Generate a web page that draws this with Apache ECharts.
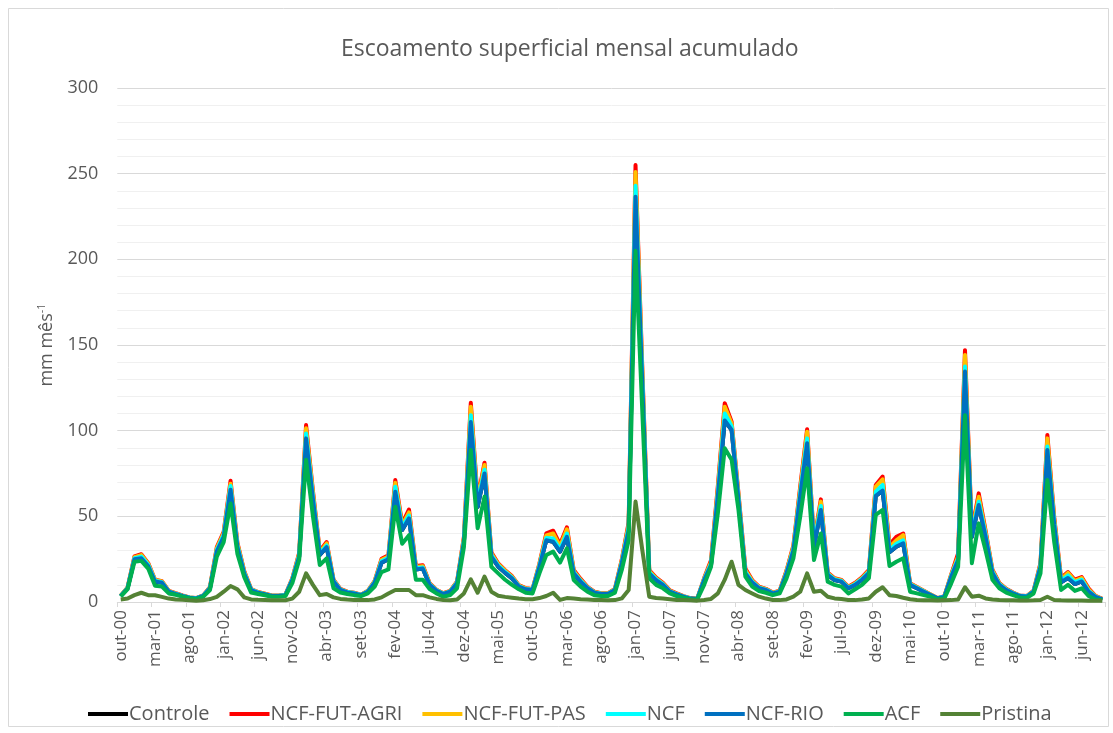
<!DOCTYPE html>
<html>
<head>
<meta charset="utf-8">
<script src="https://cdn.jsdelivr.net/npm/echarts@6/dist/echarts.min.js"></script>
<style>
html,body{margin:0;padding:0;background:#fff;}
#chart{width:1113px;height:733px;}
</style>
</head>
<body>
<div id="chart"></div>
<script>
// Category labels (months out-00 .. set-12)
const monthNames = ['jan','fev','mar','abr','mai','jun','jul','ago','set','out','nov','dez'];
const categories = [];
for (let k = 0; k < 144; k++) {
  const m = (9 + k) % 12;
  const y = Math.floor((9 + k) / 12);
  categories.push(monthNames[m] + '-' + String(y).padStart(2, '0'));
}
const seriesNames = ['Controle','NCF-FUT-AGRI','NCF-FUT-PAS','NCF','NCF-RIO','ACF','Pristina'];
const yTicks = [0, 50, 100, 150, 200, 250, 300];

const ncfFutAgri = [3.7,8.5,26.6,27.9,22.7,13,12.2,6.5,5.1,3.8,
2.7,2.3,3.8,8.7,32,41,70.8,34.6,17.9,7.6,
5.8,4.9,3.8,3.8,4.3,13.9,28.7,103.3,65,29.6,
35,13,7.6,6,5.4,4.3,6.5,12.3,25.2,27.2,
71.2,45.8,54,21,21.5,10.9,7.2,5.1,6.5,12,
38,116.3,60.2,81.3,29,22.5,18.6,15.1,9.8,8.1,
7.6,22.5,40,41.6,33.6,43.6,18.7,13.5,8.9,6,
5.1,5.1,7.7,24.8,46.5,255,135,18.6,14.3,11.2,
6.8,5,3.4,2.2,2,14,24.4,68,116,105.2,
63.4,19.6,12.8,8.9,7.7,5.5,6.6,18.4,33,67.5,
100.8,35.2,59.9,17.2,13.9,12.9,8.9,11.2,14.4,18.7,
68.3,73.2,33.5,38,40,11,8.8,6.6,4.4,2.3,
3.4,16.2,28.4,147,41.5,63.4,41.6,18.8,11.1,7.7,
5.5,3.8,3.5,6.6,22.7,97.5,49.5,14,17.5,13,
14.5,8,3.6,1.8];

const ncfFutPas = [3.7,8.4,26.2,27.4,22.3,12.8,12,6.4,5,3.7,
2.6,2.2,3.7,8.5,31.3,40.3,69,34,17.5,7.4,
5.7,4.8,3.7,3.7,4.2,13.6,28.1,101.4,63.6,29,
34.2,12.8,7.4,5.9,5.3,4.2,6.4,12,24.6,26.6,
69.6,44.8,52.3,20.4,20.9,10.6,7,5,6.4,11.7,
37.2,114,59,80,28.3,22,18.2,14.7,9.6,7.9,
7.4,22,38.8,40,32.4,42.4,18,12.9,8.6,5.8,
5,5,7.5,24.2,45.2,251,133,18,13.8,10.8,
6.5,4.8,3.3,2.1,1.9,13.6,23.4,66,114,104,
62.5,18.6,12.3,8.6,7.5,5.3,6.4,17.9,32.2,66,
99.4,34.5,58.6,16.8,13.6,12.6,8.6,10.8,14,18.2,
67.3,71.6,32,36,39,10.7,8.6,6.4,4.3,2.2,
3.3,15.8,26.6,144.2,40.5,61.4,40.6,18.3,10.8,7.5,
5.3,3.7,3.4,6.4,22.1,95.5,48.3,13.1,17,12.3,
14,7.3,3.4,1.7];

const ncf = [3.6,8.2,25.6,26.5,21.7,12.4,11.6,6.2,4.8,3.6,
2.6,2.2,3.6,8.3,30.4,39.2,67.7,33,17,7.2,
5.6,4.6,3.6,3.6,4.1,13.2,27.3,98.4,61.8,28.2,
33,12.4,7.2,5.8,5.2,4.1,6.2,11.7,23.8,25.8,
67.3,43.4,50.5,19.7,20.2,10.3,6.8,4.8,6.2,11.4,
36.1,109,57.3,77.2,27.4,21.3,17.6,14.3,9.3,7.6,
7.2,21.3,37.3,37,30.8,40,17.3,12.4,8.3,5.6,
4.8,4.8,7.2,23.4,43.5,243,129.5,17.3,13.3,10.4,
6.2,4.6,3.2,2.1,1.9,13.2,22.4,64,110,102.5,
61,17.5,11.8,8.3,7.2,5.2,6.2,17.3,31,64,
95.5,33.4,56,16.3,13.2,12.3,8.3,10.4,13.5,17.6,
64.4,68.3,30.4,34,36,10.4,8.3,6.2,4.1,2.2,
3.2,15.3,25.4,137.4,39,58.5,39.3,17.6,10.4,7.2,
5.2,3.6,3.3,6.2,21.3,90.7,46.5,12.2,15.5,11.4,
13,6.6,3.2,1.6];

const ncfRio = [3.5,8,25,25.5,21,12,11.3,6,4.7,3.5,
2.5,2.1,3.5,8,29.5,38,65.5,32,16.5,7,
5.4,4.5,3.5,3.5,4,12.8,26.5,95.5,60,27.4,
32,12,7,5.6,5,4,6,11.3,23,25,
64.4,42,48.8,19,19.5,10,6.6,4.7,6,11,
35,105,55.6,75,26.5,20.6,17,13.8,9,7.4,
7,20.6,36,35.2,29.4,38,16.7,11.9,8,5.4,
4.7,4.7,7,22.6,42,236.5,126,16.7,12.8,10,
6,4.5,3.1,2,1.8,12.8,21.6,62,106,100.4,
59.5,16.7,11.3,8,7,5,6,16.7,30,62,
92.6,32.3,53.7,15.8,12.8,11.9,8,10,13,17,
61.9,65,29,32.3,34.2,10,8,6,4,2.1,
3.1,14.8,24.5,134.5,38,56.6,38,17,10,7,
5,3.5,3.2,6,20.6,88.7,45,11.5,14,10.5,
12,6,3,1.5];

// Controle is fully hidden beneath the other curves in the picture
const controle = ncfRio;

const acf = [3.2,7.5,23.5,24,19.5,9.5,9,5,4.2,3.1,
2.2,1.8,3,7,26.5,35,57.5,28,14.5,5.5,
4.7,3.9,3.1,3,3.5,11,24.5,83,50,21.6,
25.5,8,5.5,4.7,4,3.5,5,9,17.5,19,
55.6,34,39,13,13,7.6,5,3.1,4,8,
32,88.7,43,61.5,20.6,16.7,13,10,7.4,5.4,
5,16.7,27.4,29.4,23,31.3,12.8,9,6,4,
3.5,3.5,5.4,18.7,36,205,110,13.8,10,8,
5,3.5,2.5,1.6,1.5,10,20.6,52,89.7,83,
53.7,14.8,9,6.4,5.4,4,5,13.8,25.5,50,
78,24.5,40,11.9,10,9,5,7.4,10,14,
50.8,53.7,21,23.5,25.5,6,5,4,3.1,1.6,
2.1,10.9,20.6,109,22.6,45.9,30,13,8,5.5,
4,2.7,2.5,5,16.7,71.2,35,7,10,6.5,
8,3.5,1.5,1];

const pristina = [1.5,2,4,5.4,4,3.9,3,2,1.5,1.3,
1,0.8,1,1.7,3,6,9.3,7.4,2.7,1.5,
1.3,1.2,1,1,1,2,6,16.7,10,4,
4.7,2.7,1.8,1.4,1.2,1.1,1.1,1.5,2.7,5,
7,7,7,4,4,2.7,1.8,1.2,1,1.5,
5,13.2,5.4,14.8,6,3.7,3,2.5,2,1.6,
1.6,2.3,3.5,5.4,1.2,2.3,2,1.6,1.4,1.2,
1.2,1,1.1,2.1,7,58.6,30,3.1,2.3,2,
1.6,1.2,1.1,1,0.8,1.2,1.8,5,13,23.5,
10,7,5,3.1,2,1.2,1.1,1.5,3.1,6,
16.7,6,6.6,3.1,2.1,1.8,1.2,1.1,1.5,2.1,
6,8.6,4,3.5,2.5,1.6,1.2,1,1,0.9,
1,1.1,1.5,8.6,3.1,3.7,2.1,1.5,1.2,1,
1,0.9,0.9,1,1.2,3.1,1.2,1,0.9,0.9,
0.9,0.8,0.8,0.8];

const seriesData = [controle, ncfFutAgri, ncfFutPas, ncf, ncfRio, acf, pristina];
const colors = ['#000000','#ff0000','#ffc000','#00ffff','#0070c0','#00b050','#548235'];

const FONT = '"Open Sans", "Liberation Sans", sans-serif';
const chart = echarts.init(document.getElementById('chart'), null, {renderer: 'canvas'});

const option = {
  animation: false,
  backgroundColor: '#ffffff',
  color: colors,
  title: {
    text: 'Escoamento superficial mensal acumulado',
    left: 336,
    top: 33,
    textStyle: {fontFamily: FONT, fontSize: 23, fontWeight: 'normal', color: '#595959'}
  },
  graphic: [{
    type: 'rect',
    shape: {x: 8.5, y: 8.5, width: 1100, height: 718},
    style: {fill: 'none', stroke: '#d9d9d9', lineWidth: 1},
    silent: true
  }],
  legend: {
    data: seriesNames,
    left: 83,
    top: 699,
    icon: 'rect',
    itemWidth: 40,
    itemHeight: 4,
    itemGap: 20,
    textStyle: {fontFamily: FONT, fontSize: 20, color: '#595959', padding: [0, 0, 0, -4]}
  },
  grid: {left: 117.3, right: 7.3, top: 88, bottom: 131, containLabel: false},
  xAxis: {
    type: 'category',
    data: categories,
    boundaryGap: true,
    axisLine: {lineStyle: {color: '#d9d9d9', width: 1}},
    axisTick: {show: true, interval: 4, length: 5, lineStyle: {color: '#d9d9d9'}},
    axisLabel: {interval: 4, rotate: 90, margin: 8, fontFamily: FONT, fontSize: 17, color: '#595959'},
    splitLine: {show: false}
  },
  yAxis: {
    type: 'value',
    min: yTicks[0],
    max: yTicks[yTicks.length - 1],
    interval: 50,
    name: '{a|mm mês}{b|-1}',
    nameLocation: 'middle',
    nameGap: 60,
    nameRotate: 90,
    nameTextStyle: {
      rich: {
        a: {fontFamily: FONT, fontSize: 18, color: '#595959'},
        b: {fontFamily: FONT, fontSize: 11, color: '#595959', verticalAlign: 'top', padding: [0, 0, 10, 0]}
      }
    },
    axisLine: {show: false},
    axisTick: {show: false},
    axisLabel: {margin: 19, fontFamily: FONT, fontSize: 18, color: '#595959'},
    splitLine: {lineStyle: {color: '#d9d9d9', width: 1}},
    minorTick: {show: false, splitNumber: 5},
    minorSplitLine: {show: true, lineStyle: {color: '#f0f0f0', width: 1}}
  },
  series: seriesNames.map((name, idx) => ({
    name: name,
    type: 'line',
    data: seriesData[idx],
    showSymbol: false,
    symbol: 'none',
    lineStyle: {width: 4, color: colors[idx], join: 'round'},
    itemStyle: {color: colors[idx]},
    z: 2 + idx
  }))
};
chart.setOption(option);
</script>
</body>
</html>
